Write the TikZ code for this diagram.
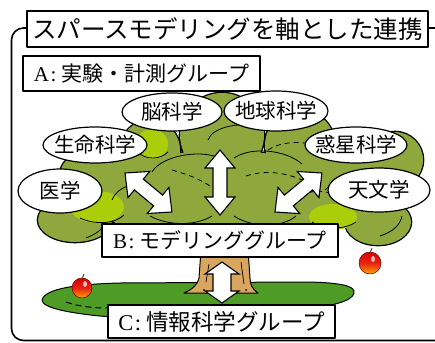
\documentclass[tikz,border=0pt]{standalone}
\usepackage{fontspec}
\setmainfont{Liberation Serif}
\newfontfamily\jp{Noto Sans CJK JP}
\usetikzlibrary{shapes.geometric}

\definecolor{leaf}{RGB}{143,168,62}
\definecolor{leaflight}{RGB}{172,205,10}
\definecolor{grass}{RGB}{78,155,38}
\definecolor{bark}{RGB}{217,166,96}
\definecolor{applered}{RGB}{230,35,20}

\tikzset{
  titlebox/.style={draw, fill=white, line width=1.8pt, inner sep=0pt,
    minimum height=36pt, font=\fontsize{24.5}{24.5}\selectfont},
  groupbox/.style={draw, fill=white, line width=1.2pt, inner sep=0pt,
    minimum height=34pt, font=\fontsize{21}{21}\selectfont},
  bubble/.style={ellipse, draw, fill=white, line width=1.2pt, inner sep=0pt,
    font=\fontsize{20.5}{20.5}\selectfont},
  arrowbody/.style={draw, fill=white, line width=1.1pt, line join=miter},
  twig/.style={line width=0.8pt},
  twigdash/.style={line width=0.8pt, dash pattern=on 5pt off 4pt},
  apple/.style={top color=red!85!black, bottom color=orange!70!yellow, middle color=applered},
}

% double-headed block arrow: start, angle, length, head half width, shaft half width, head length
\newcommand\biarrow[6]{%
  \begin{scope}[shift={(#1)},rotate=#2]
    \draw[arrowbody] (0,0) -- (#6,#4) -- (#6,#5) -- ({#3-#6},#5) -- ({#3-#6},#4)
      -- (#3,0) -- ({#3-#6},-#4) -- ({#3-#6},-#5) -- (#6,-#5) -- (#6,-#4) -- cycle;
  \end{scope}}

% apple with stem and highlight: centre, radius
\newcommand\apple[2]{%
  \shade[apple] (#1) circle[radius=#2pt];
  \draw[line width=0.5pt, red!40!black] (#1) circle[radius=#2pt];
  \fill[white, opacity=0.7] ($(#1)+(3,-4)$) ellipse[x radius=2pt, y radius=3pt];
  \draw[line width=1pt, brown!50!black] ($(#1)+(0,-#2+1)$) -- ($(#1)+(2,-#2-4)$);}

% the blobs that make up the tree crown
\def\crown{(75,220) ellipse [x radius=37pt, y radius=22pt]
  (378,222) ellipse [x radius=33pt, y radius=23pt]
  (395,160) circle [radius=28pt]
  (345,190) circle [radius=35pt]
  (300,145) circle [radius=35pt]
  (222,135) circle [radius=42pt]
  (150,150) circle [radius=30pt]
  (105,180) circle [radius=32pt]
  (80,175) circle [radius=20pt]
  (160,190) circle [radius=40pt]
  (290,190) circle [radius=40pt]
  (222,200) ellipse [x radius=120pt, y radius=50pt]}

\usetikzlibrary{calc}

\begin{document}
\begin{tikzpicture}[x=1pt,y=-1pt,line join=round]
\useasboundingbox (0,0) rectangle (435,342);
\fill[white] (0,0) rectangle (435,342);

% outer frame
\draw[line width=1.6pt, rounded corners=12pt] (460,28) -- (11.5,28) -- (11.5,340.5) -- (460,340.5);

% ground
\draw[fill=grass, line width=1pt] (42,300) .. controls (45,288) and (80,284) .. (120,283)
  -- (300,282) .. controls (340,282) and (356,286) .. (354,293)
  .. controls (352,302) and (330,306) .. (300,310)
  .. controls (240,318) and (150,320) .. (100,316)
  .. controls (70,313) and (42,308) .. (42,300) -- cycle;
\draw[line width=1pt, dash pattern=on 6pt off 4pt] (66,302) .. controls (80,307) and (95,308) .. (108,308);

% trunk
\draw[fill=bark, line width=1pt] (201,250) -- (199,278) .. controls (197,286) and (191,290) .. (184,293)
  -- (258,293) .. controls (252,289) and (250,284) .. (250,278) -- (248,250);
\draw[line width=0.7pt] (209,264) -- (206,282);
\draw[line width=0.7pt] (241,262) -- (244,284);
\fill (246,290) circle[radius=1pt] (204,290) circle[radius=1pt];

% tree crown: outline first, then the fill on top
\draw[line width=2.6pt] \crown;
\fill[leaf] \crown;

% lighter patches of foliage
\fill[leaflight] (152,144) ellipse [x radius=16pt, y radius=15pt];
\fill[leaflight] (97,207) ellipse [x radius=27pt, y radius=16pt];
\fill[leaflight] (333,217) ellipse [x radius=24pt, y radius=13pt];
\draw[twig] (138,152) .. controls (145,160) and (160,160) .. (168,152);
\draw[twig] (80,218) .. controls (95,225) and (115,224) .. (124,215);
\draw[twig] (312,222) .. controls (322,230) and (345,230) .. (356,222);

% inner leaf contours
\draw[twig] (152,172) .. controls (160,158) and (192,150) .. (214,156);
\draw[twigdash] (172,170) .. controls (186,174) and (198,178) .. (210,186);
\draw[twig] (234,158) .. controls (252,146) and (286,150) .. (302,164);
\draw[twigdash] (246,176) .. controls (264,170) and (284,172) .. (302,180);
\draw[twig] (208,140) .. controls (212,128) and (236,122) .. (258,126);
\draw[twig] (150,216) .. controls (168,226) and (196,226) .. (212,216);
\draw[twig] (234,216) .. controls (252,228) and (282,228) .. (296,216);
\draw[twigdash] (268,150) .. controls (280,142) and (300,140) .. (318,146);
\draw[twig] (325,190) .. controls (338,176) and (362,176) .. (382,186);
\draw[twig] (112,200) .. controls (118,186) and (134,182) .. (148,186);
\draw[twigdash] (300,196) .. controls (312,190) and (322,190) .. (332,194);
\draw[twig] (86,238) .. controls (96,234) and (102,230) .. (104,224);
\draw[twig] (380,236) .. controls (392,232) and (400,226) .. (402,216);

% apples
\apple{82,288}{10}
\apple{370,263}{11}

% exchange arrows
\biarrow{125,173}{-39.7}{61}{17}{7}{18}
\biarrow{220,215}{90}{65}{15}{7}{18}
\biarrow{275,212}{39.7}{61}{17}{7}{18}
\biarrow{222,303}{90}{41}{17}{9}{12}

% research fields
\node[bubble, minimum width=104pt, minimum height=40pt] (geo) at (276,111) {\makebox[0pt]{\jp 地球科学}};
\node[bubble, minimum width=100pt, minimum height=38pt] (brain) at (172,112) {\makebox[0pt]{\jp 脳科学}};
\node[bubble, minimum width=104pt, minimum height=36pt] (life) at (95,145) {\makebox[0pt]{\jp 生命科学}};
\node[bubble, minimum width=102pt, minimum height=36pt] (planet) at (356,145) {\makebox[0pt]{\jp 惑星科学}};
\node[bubble, minimum width=84pt, minimum height=44pt] (med) at (60,191) {\makebox[0pt]{\jp 医学}};
\node[bubble, minimum width=102pt, minimum height=44pt] (astro) at (379,190) {\makebox[0pt]{\jp 天文学}};

% headings and groups
\node[titlebox, minimum width=401pt] (title) at (227.5,29) {\jp スパースモデリングを軸とした連携};
\node[groupbox, minimum width=237pt, minimum height=35pt] (groupA) at (141.5,73.5)
  {A\kern1.5pt:\kern5pt{\jp 実験・計測グループ}};
\node[groupbox, minimum width=236pt, minimum height=33pt] (groupB) at (220,240.5)
  {B\kern1.5pt:\kern5pt{\jp モデリンググループ}};
\node[groupbox, minimum width=227pt, minimum height=33pt, font=\fontsize{22.5}{22.5}\selectfont] (groupC) at (221.5,321.5)
  {C\kern1.5pt:\kern5pt{\jp 情報科学グループ}};
\end{tikzpicture}
\end{document}
